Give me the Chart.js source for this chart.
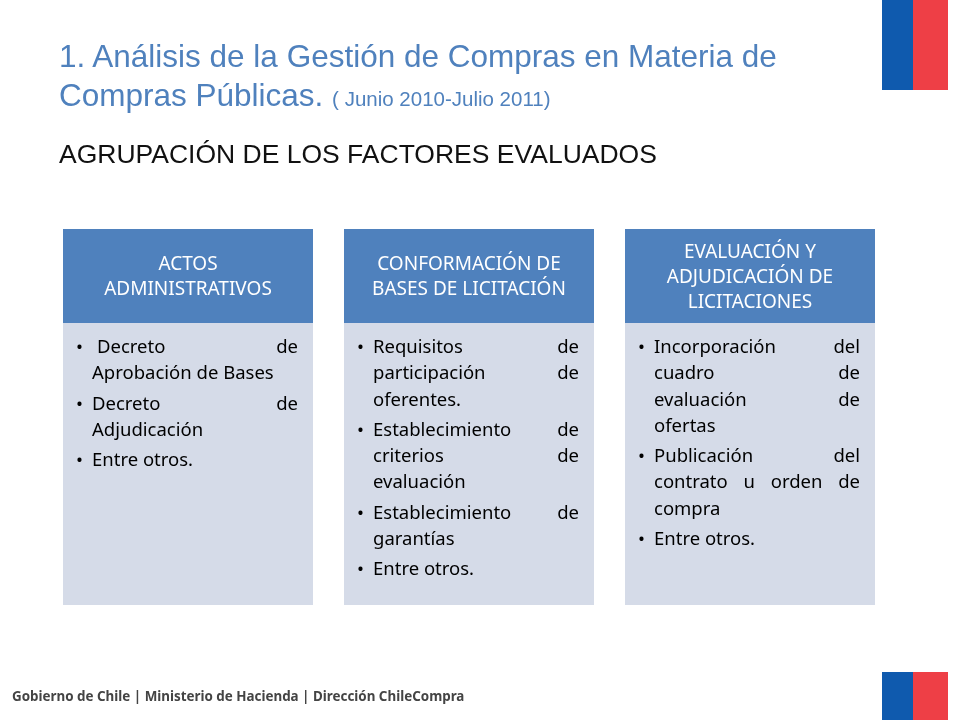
<!DOCTYPE html>
<html><head><meta charset="utf-8">
<script src="https://cdn.jsdelivr.net/npm/chart.js@4"></script>
<style>
body{margin:0;background:#fff;}
#wrap{position:relative;width:960px;height:720px;overflow:hidden;font-family:"Liberation Sans",Arial,sans-serif;}
canvas{position:absolute;left:0;top:0;}
.t{position:absolute;}
.flag{position:absolute;left:882px;width:66px;}
.flag div{position:absolute;top:0;bottom:0;}
.hd{position:absolute;color:#fff;font-family:"Noto Sans",sans-serif;font-size:19px;text-align:center;display:flex;align-items:center;justify-content:center;line-height:25px;}
.bd{position:absolute;font-family:"Noto Sans",sans-serif;font-size:18.5px;line-height:26.3px;color:#000;}
.li{padding-left:16px;position:relative;margin-bottom:4px;}
.li:before{content:"•";position:absolute;left:0;top:0;}
.ln{text-align:justify;text-align-last:justify;white-space:nowrap;}
.ln.last{text-align-last:left;}
</style></head><body>
<div id="wrap">
<canvas id="c" width="960" height="720"></canvas>
<div class="t" style="left:59px;top:37px;color:#4F81BD;font-size:31.5px;line-height:39px;">1. Análisis de la Gestión de Compras en Materia de<br>Compras Públicas. <span style="font-size:20.5px">( Junio 2010-Julio 2011)</span></div>
<div class="t" style="left:59px;top:139px;font-size:26.5px;color:#111;">AGRUPACIÓN DE LOS FACTORES EVALUADOS</div>
<div class="flag" style="top:0;height:90px;"><div style="left:0;width:31px;background:#0F5AAE"></div><div style="left:31px;width:35px;background:#EE3F46"></div></div>
<div class="flag" style="top:672px;height:48px;"><div style="left:0;width:31px;background:#0F5AAE"></div><div style="left:31px;width:35px;background:#EE3F46"></div></div>
<div class="t" style="left:12px;top:687px;font-family:'Noto Sans',sans-serif;font-size:13.4px;color:#444;font-weight:bold;">Gobierno de Chile | Ministerio de Hacienda | Dirección ChileCompra</div>
<div id="txt"></div>
</div>
<script>
const categories = ['ACTOS ADMINISTRATIVOS', 'CONFORMACIÓN DE BASES DE LICITACIÓN', 'EVALUACIÓN Y ADJUDICACIÓN DE LICITACIONES'];
const headerRanges = [[229, 323], [229, 323], [229, 323]];
const bodyRanges = [[323, 605], [323, 605], [323, 605]];
const headerLines = [['ACTOS', 'ADMINISTRATIVOS'], ['CONFORMACIÓN DE', 'BASES DE LICITACIÓN'], ['EVALUACIÓN Y', 'ADJUDICACIÓN DE', 'LICITACIONES']];
// each bullet is a list of its lines as wrapped in the slide
const bullets = [
  [['Decreto de', 'Aprobación de Bases'], ['Decreto de', 'Adjudicación'], ['Entre otros.']],
  [['Requisitos de', 'participación de', 'oferentes.'], ['Establecimiento de', 'criterios de', 'evaluación'], ['Establecimiento de', 'garantías'], ['Entre otros.']],
  [['Incorporación del', 'cuadro de', 'evaluación de', 'ofertas'], ['Publicación del', 'contrato u orden de', 'compra'], ['Entre otros.']]
];

const chart = new Chart(document.getElementById('c'), {
  type: 'bar',
  data: {
    labels: categories,
    datasets: [
      { data: headerRanges, backgroundColor: '#4F81BD', grouped: false },
      { data: bodyRanges, backgroundColor: '#D5DBE8', grouped: false }
    ]
  },
  options: {
    responsive: false, animation: false,
    layout: { padding: { left: 47.5, right: 69.5, top: 0, bottom: 0 } },
    datasets: { bar: { categoryPercentage: 1, barPercentage: 250 / 281 } },
    plugins: { legend: { display: false }, tooltip: { enabled: false } },
    scales: {
      x: { display: false },
      y: { display: false, min: 0, max: 720, reverse: true }
    }
  }
});

// place text over the bars from the chart's own geometry
const txt = document.getElementById('txt');
chart.getDatasetMeta(0).data.forEach((bar, i) => {
  const left = bar.x - bar.width / 2;
  const h = document.createElement('div');
  h.className = 'hd';
  h.style.left = left + 'px'; h.style.width = bar.width + 'px';
  h.style.top = Math.min(bar.y, bar.base) + 'px';
  h.style.height = Math.abs(bar.base - bar.y) + 'px';
  h.innerHTML = headerLines[i].join('<br>');
  txt.appendChild(h);
  const b = chart.getDatasetMeta(1).data[i];
  const d = document.createElement('div');
  d.className = 'bd';
  d.style.left = (left + 13) + 'px'; d.style.width = (bar.width - 28) + 'px';
  d.style.top = (Math.min(b.y, b.base) + 10) + 'px';
  d.innerHTML = bullets[i].map((lines, j) => '<div class="li">' +
    lines.map((s, k) => '<div class="ln' + (k === lines.length - 1 ? ' last' : '') + '"' +
      (i === 0 && j === 0 && k === 0 ? ' style="padding-left:5px"' : '') + '>' + s + '</div>').join('') +
    '</div>').join('');
  txt.appendChild(d);
});
</script>
</body></html>
